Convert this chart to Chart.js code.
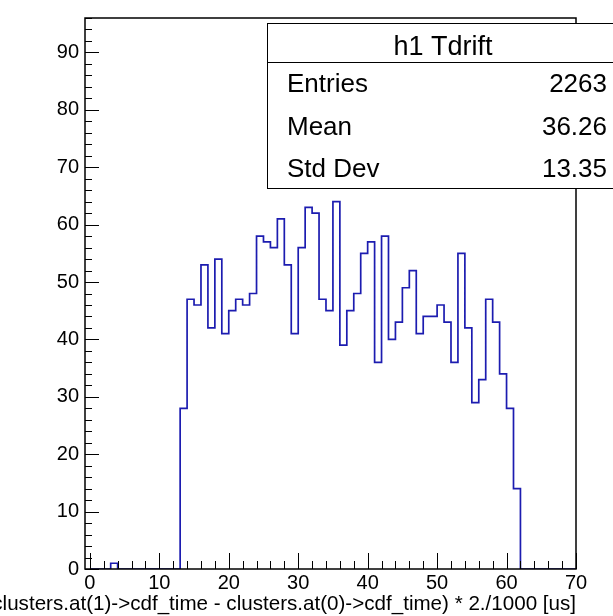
<!DOCTYPE html>
<html>
<head>
<meta charset="utf-8">
<script src="https://cdn.jsdelivr.net/npm/chart.js@4.4.1/dist/chart.umd.min.js"></script>
<style>
  body { margin: 0; background: #fff; }
  canvas { display: block; }
</style>
</head>
<body>
<canvas id="tdrift" width="613" height="616"></canvas>
<script>
// h1 Tdrift, one-unit bins starting at 0
const binCounts = [
  0, 0, 0, 1, 0, 0, 0, 0, 0, 0,
  0, 0, 0, 28, 47, 46, 53, 42, 54, 41,
  45, 47, 46, 48, 58, 57, 56, 61, 53, 41,
  56, 63, 62, 47, 45, 64, 39, 45, 48, 55,
  57, 36, 58, 40, 43, 49, 52, 41, 44, 44,
  46, 43, 36, 55, 42, 29, 33, 47, 43, 34,
  28, 14, 0, 0, 0, 0, 0, 0, 0, 0
];
const xTicks = [0, 10, 20, 30, 40, 50, 60, 70];
const yTicks = [0, 10, 20, 30, 40, 50, 60, 70, 80, 90];
const xTitle = '(clusters.at(1)->cdf_time - clusters.at(0)->cdf_time) * 2./1000 [us]';
const statsTitle = 'h1 Tdrift';
const statsLabels = ['Entries', 'Mean', 'Std Dev'];
const statsValues = ['2263', '36.26', '13.35'];

const FONT = '"Liberation Sans", Arial, Helvetica, sans-serif';

// histogram outline: each bin's low edge, closed at the last edge
const steps = binCounts.map((c, i) => ({ x: i, y: c }));
steps.push({ x: binCounts.length, y: 0 });

// ROOT style frame: inward ticks, black box, axis title, stats panel
const rootFrame = {
  id: 'rootFrame',
  afterDatasetsDraw(chart) {
    const { ctx, chartArea: a, scales: { x, y } } = chart;
    ctx.save();
    ctx.strokeStyle = '#000';
    ctx.lineWidth = 1;
    ctx.beginPath();
    for (let v = 0; v <= x.max; v += 2) {
      const px = Math.round(x.getPixelForValue(v)) + 0.5;
      const len = xTicks.includes(v) ? 16 : 8;
      ctx.moveTo(px, a.bottom);
      ctx.lineTo(px, a.bottom - len);
    }
    for (let v = 0; v <= y.max; v += 2) {
      const py = Math.round(y.getPixelForValue(v)) + 0.5;
      const len = yTicks.includes(v) ? 14 : 7;
      ctx.moveTo(a.left, py);
      ctx.lineTo(a.left + len, py);
    }
    ctx.stroke();

    ctx.lineWidth = 1.5;
    ctx.strokeRect(a.left, a.top, a.right - a.left, a.bottom - a.top);

    // axis title hangs off the right end of the axis, runs past the left edge
    ctx.fillStyle = '#000';
    ctx.font = '20.6px ' + FONT;
    ctx.textAlign = 'right';
    ctx.textBaseline = 'middle';
    ctx.fillText(xTitle, a.right, 604);
    ctx.restore();
  },
  afterDraw(chart) {
    const ctx = chart.ctx;
    const left = 267, top = 23, w = 360, h = 165;
    ctx.save();
    ctx.fillStyle = '#fff';
    ctx.fillRect(left, top, w, h);
    ctx.strokeStyle = '#000';
    ctx.lineWidth = 1;
    ctx.strokeRect(left + 0.5, top + 0.5, w, h);
    ctx.beginPath();
    ctx.moveTo(left, 62.5);
    ctx.lineTo(left + w, 62.5);
    ctx.stroke();

    ctx.fillStyle = '#000';
    ctx.textBaseline = 'alphabetic';
    ctx.font = '27px ' + FONT;
    ctx.textAlign = 'center';
    ctx.fillText(statsTitle, 443, 55);

    ctx.font = '26px ' + FONT;
    const rows = [92, 135, 177];
    statsLabels.forEach((lab, i) => {
      ctx.textAlign = 'left';
      ctx.fillText(lab, 287, rows[i]);
      ctx.textAlign = 'right';
      ctx.fillText(statsValues[i], 607, rows[i]);
    });
    ctx.restore();
  }
};

new Chart(document.getElementById('tdrift'), {
  type: 'line',
  data: {
    datasets: [{
      label: statsTitle,
      data: steps,
      stepped: 'before',
      borderColor: '#1c1cb0',
      borderWidth: 1.7,
      pointRadius: 0,
      fill: false
    }]
  },
  options: {
    responsive: false,
    animation: false,
    layout: { padding: { top: 14, right: 37, left: 0, bottom: 0 } },
    plugins: {
      legend: { display: false },
      tooltip: { enabled: false }
    },
    scales: {
      x: {
        type: 'linear',
        min: -0.7,
        max: 70,
        grid: { display: false, drawTicks: false },
        border: { display: false },
        afterBuildTicks: s => { s.ticks = xTicks.map(v => ({ value: v })); },
        afterFit: s => { s.height = 47; },
        ticks: {
          color: '#000',
          padding: 2,
          maxRotation: 0,
          autoSkip: false,
          font: { family: FONT, size: 20 }
        }
      },
      y: {
        min: 0,
        max: 96,
        grid: { display: false, drawTicks: false },
        border: { display: false },
        afterBuildTicks: s => { s.ticks = yTicks.map(v => ({ value: v })); },
        afterFit: s => { s.width = 85; },
        ticks: {
          color: '#000',
          padding: 6,
          font: { family: FONT, size: 20 }
        }
      }
    }
  },
  plugins: [rootFrame]
});
</script>
</body>
</html>
